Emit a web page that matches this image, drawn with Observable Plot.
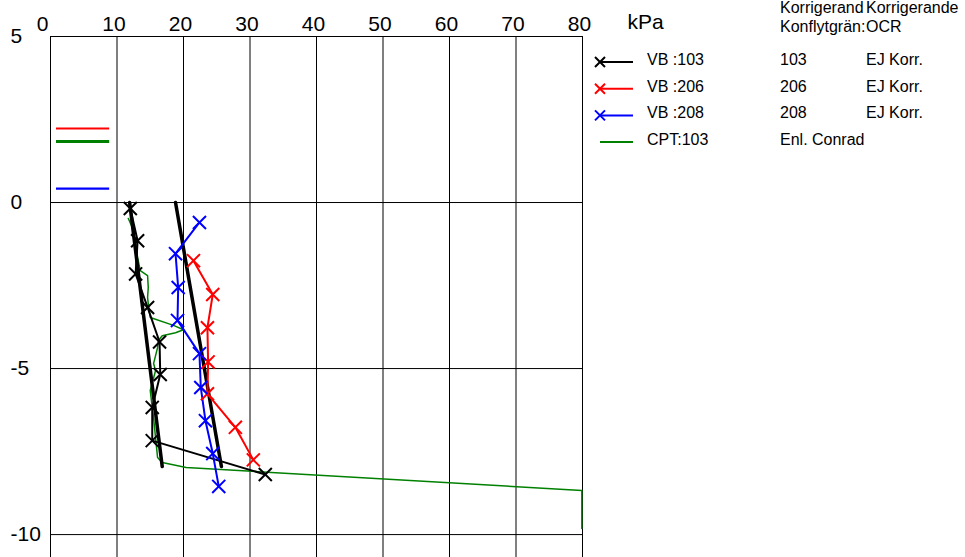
<!DOCTYPE html>
<html><head><meta charset="utf-8">
<script src="https://cdn.jsdelivr.net/npm/d3@7"></script>
<script src="https://cdn.jsdelivr.net/npm/@observablehq/plot@0.6"></script>
<style>
html,body{margin:0;padding:0;background:#fff;}
#chart{position:relative;width:965px;height:557px;overflow:hidden;}
</style></head><body><div id="chart"></div>
<script>
// ---- axes ----
const xTicks = [0, 10, 20, 30, 40, 50, 60, 70, 80];
const yTicks = [5, 0, -5, -10];
const xUnit = "kPa";
const yBottom = -10.69;

// ---- legend texts ----
const seriesNames = ["VB :103", "VB :206", "VB :208", "CPT:103"];
const seriesCol1 = ["103", "206", "208", "Enl. Conrad"];
const seriesCol2 = ["EJ Korr.", "EJ Korr.", "EJ Korr.", ""];
const headerCol1 = ["Korrigerand", "Konflytgrän:"];
const headerCol2 = ["Korrigerande", "OCR"];
const seriesColors = ["#000000", "#ff0000", "#0000ff", "#008000"];

// ---- vane test series (kPa, depth m) ----
const vb103Tau = [12.0, 13.1, 12.8, 14.6, 16.4, 16.5, 15.3, 15.3, 32.3];
const vb103Depth = [-0.18, -1.15, -2.15, -3.16, -4.2, -5.18, -6.17, -7.17, -8.19];
const vb206Tau = [21.5, 24.4, 23.6, 23.7, 23.6, 27.8, 30.5];
const vb206Depth = [-1.75, -2.77, -3.77, -4.8, -5.76, -6.77, -7.75];
const vb208Tau = [22.4, 18.8, 19.2, 19.1, 22.4, 22.6, 23.3, 24.4, 25.3];
const vb208Depth = [-0.6, -1.54, -2.56, -3.55, -4.55, -5.57, -6.57, -7.56, -8.55];

// ---- CPT 103 ----
const cptTau = [11.7, 12.3, 12.8, 13.1, 13.5, 14.6, 14.7, 14.6, 14.7, 15.0, 18.5, 20.0, 18.8, 16.8, 16.2, 16.1, 15.5, 15.8, 15.0, 15.3, 15.5, 15.8, 16.1, 16.8, 20.4, 79.9, 79.9];
const cptDepth = [-0.48, -0.75, -1.23, -1.66, -2.05, -2.2, -2.56, -2.86, -3.04, -3.46, -3.7, -3.83, -3.92, -4.01, -4.16, -4.37, -4.85, -5.06, -5.66, -6.17, -6.48, -7.08, -7.68, -7.83, -7.98, -8.67, -9.82];

// ---- evaluated trend lines ----
const trendA = {tau: [11.9, 16.8], depth: [0, -7.95]};
const trendB = {tau: [18.8, 25.7], depth: [0, -7.95]};

// ---- level markers at left ----
const levelSeries = ["VB :206", "CPT:103", "VB :208"];
const levelDepth = [2.23, 1.84, 0.42];
const levelTau1 = [0.9, 0.9, 0.9];
const levelTau2 = [8.9, 8.9, 8.9];

// ---- build tables ----
const vbPoints = [];
[[seriesNames[0], vb103Tau, vb103Depth], [seriesNames[1], vb206Tau, vb206Depth], [seriesNames[2], vb208Tau, vb208Depth]]
  .forEach(([s, xs, ys]) => xs.forEach((x, i) => vbPoints.push({series: s, x, y: ys[i]})));
const cpt = cptTau.map((x, i) => ({x, y: cptDepth[i]}));
const trends = [];
[["A", trendA], ["B", trendB]].forEach(([k, t]) => t.tau.forEach((x, i) => trends.push({line: k, x, y: t.depth[i]})));
const levels = levelSeries.map((s, i) => ({series: s, y: levelDepth[i], x1: levelTau1[i], x2: levelTau2[i]}));

const font = "'Liberation Sans', Arial, sans-serif";
const fmt = d => String(d);

const chart = Plot.plot({
  width: 965, height: 557,
  marginLeft: 50, marginRight: 383, marginTop: 36, marginBottom: 0,
  style: {fontFamily: font, fontSize: "21px", color: "#000", background: "#fff"},
  x: {domain: [0, 80]},
  y: {domain: [yBottom, 5]},
  color: {domain: seriesNames, range: seriesColors},
  marks: [
    Plot.gridX(xTicks, {stroke: "#000", strokeOpacity: 1, strokeWidth: 1}),
    Plot.gridY(yTicks, {stroke: "#000", strokeOpacity: 1, strokeWidth: 1}),
    Plot.axisX(xTicks.slice(1), {anchor: "top", tickSize: 0, tickPadding: 6, dx: -3, fontSize: 21, label: null, tickFormat: fmt}),
    Plot.axisX(xTicks.slice(0, 1), {anchor: "top", tickSize: 0, tickPadding: 6, dx: -8, fontSize: 21, label: null, tickFormat: fmt}),
    Plot.axisY(yTicks, {anchor: "left", tickSize: 0, tickPadding: 0, textAnchor: "start", dx: -40, fontSize: 21, label: null, tickFormat: fmt}),
    Plot.text([xUnit], {frameAnchor: "top-right", text: d => d, dx: 45, dy: -14, textAnchor: "start", lineAnchor: "middle", fontSize: 21}),
    Plot.ruleY(levels, {y: "y", x1: "x1", x2: "x2", stroke: "series", strokeWidth: d => d.series === "CPT:103" ? 3 : 2.2}),
    Plot.line(cpt, {x: "x", y: "y", stroke: seriesColors[3], strokeWidth: 1.5}),
    Plot.line(trends, {x: "x", y: "y", z: "line", stroke: "#000", strokeWidth: 3.5}),
    Plot.line(vbPoints, {x: "x", y: "y", z: "series", stroke: "series", strokeWidth: 2}),
    Plot.dot(vbPoints, {x: "x", y: "y", symbol: "times", r: 6, stroke: "series", strokeWidth: 2})
  ]
});
document.getElementById("chart").appendChild(chart);

// ---- legend (right of the plot) ----
const svg = d3.select(chart);
const lg = svg.append("g").attr("font-family", font).attr("font-size", 16).attr("fill", "#000").attr("text-anchor", "start");
const rowY0 = 62, rowStep = 26.7;
headerCol1.forEach((t, i) => lg.append("text").attr("x", 780).attr("y", 13 + i * 19).text(t));
headerCol2.forEach((t, i) => lg.append("text").attr("x", 866).attr("y", 13 + i * 19).text(t));
seriesNames.forEach((s, i) => {
  const y = rowY0 + i * rowStep;
  lg.append("line").attr("x1", 600).attr("x2", 633).attr("y1", y).attr("y2", y)
    .attr("stroke", seriesColors[i]).attr("stroke-width", 2);
  if (i < 3) {
    lg.append("path").attr("d", d3.symbol(d3.symbolTimes, 67)()).attr("transform", `translate(600,${y})`)
      .attr("stroke", seriesColors[i]).attr("stroke-width", 2).attr("fill", "none");
  }
  lg.append("text").attr("x", 647).attr("y", y + 3).text(s);
  lg.append("text").attr("x", 780).attr("y", y + 3).text(seriesCol1[i]);
  lg.append("text").attr("x", 866).attr("y", y + 3).text(seriesCol2[i]);
});
</script></body></html>
